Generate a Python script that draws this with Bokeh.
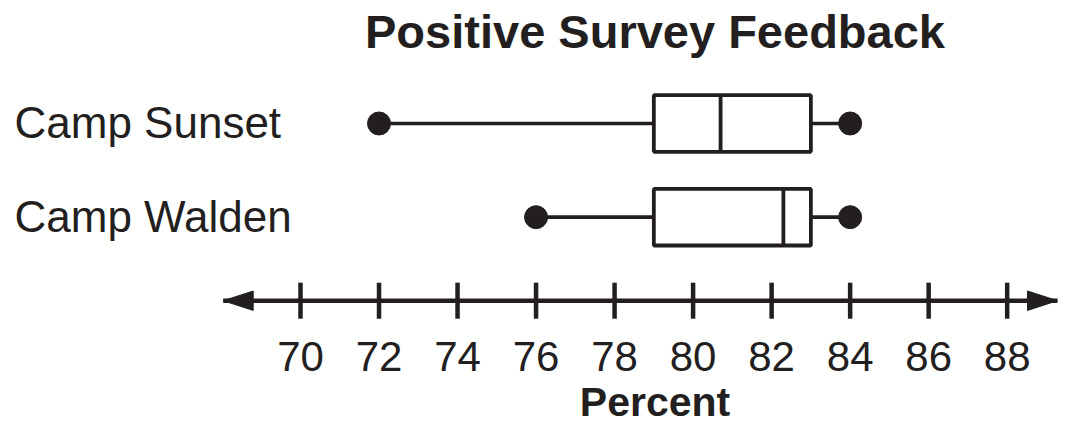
from bokeh.plotting import figure
from bokeh.models import Range1d, ColumnDataSource
from bokeh.core.properties import value
from bokeh.embed import file_html
from bokeh.resources import INLINE

# ---- data ----
CAMPS = ["Camp Sunset", "Camp Walden"]
MINS = [72, 76]
Q1S = [79, 79]
MEDIANS = [80.7, 82.3]
Q3S = [83, 83]
MAXS = [84, 84]

TICKS = [70, 72, 74, 76, 78, 80, 82, 84, 86, 88]
TICK_LABELS = ["70", "72", "74", "76", "78", "80", "82", "84", "86", "88"]

TITLE = "Positive Survey Feedback"
X_LABEL = "Percent"

# ---- layout ----
W, H = 1058, 425
PX_X = 39.26          # pixels per percent
PX_Y = 93.7           # pixels per row
X0 = 70 - 300 / PX_X
X1 = X0 + W / PX_X
Y_TOP = 2 + 123 / PX_Y
Y_BOT = Y_TOP - H / PX_Y

def dx(n):
    return n / PX_X

def dy(n):
    return n / PX_Y

ROWS = [2, 1]
AXIS_Y = 1 - dy(83.5)
LINE_START = X0 + dx(222.7)
LINE_END = X0 + dx(1057)
CENTER_X = X0 + dx(654.5)
INK = "#231f20"
FONT = value("Liberation Sans")

p = figure(width=W, height=H, x_range=Range1d(X0, X1), y_range=Range1d(Y_BOT, Y_TOP),
           toolbar_location=None, output_backend="svg",
           x_axis_location=None, y_axis_location=None, min_border=0,
           outline_line_color=None, background_fill_color="white",
           border_fill_color="white")
p.grid.visible = False

src = ColumnDataSource(dict(camp=CAMPS, row=ROWS, lo=MINS, q1=Q1S, med=MEDIANS, q3=Q3S, hi=MAXS))
HB = dy(28.3)

# whiskers
p.segment(x0="lo", x1="q1", y0="row", y1="row", source=src, line_color=INK, line_width=3.7)
p.segment(x0="q3", x1="hi", y0="row", y1="row", source=src, line_color=INK, line_width=3.7)
# boxes
src.data["b"] = [r - HB for r in ROWS]
src.data["t"] = [r + HB for r in ROWS]
p.quad(left="q1", right="q3", bottom="b", top="t", source=src,
       fill_color="white", line_color=INK, line_width=3.8)
p.segment(x0="med", x1="med", y0="b", y1="t", source=src, line_color=INK, line_width=3.8)
# end points
p.scatter(x="lo", y="row", source=src, size=23, fill_color=INK, line_color=INK)
p.scatter(x="hi", y="row", source=src, size=23, fill_color=INK, line_color=INK)

# category labels
src.data["lx"] = [X0 + dx(14)] * len(CAMPS)
src.data["ly"] = [r + dy(1.2) for r in ROWS]
p.text(x="lx", y="ly", text="camp", source=src, text_font=FONT, text_font_size="44px",
       text_color=INK, text_align="left", text_baseline="middle")

# number line
p.segment(x0=[LINE_START], x1=[LINE_END], y0=[AXIS_Y], y1=[AXIS_Y], line_color=INK, line_width=4.5)
HL, HW = dx(30), dy(9.7)
p.patches(xs=[[LINE_START, LINE_START + HL, LINE_START + HL],
              [LINE_END, LINE_END - HL, LINE_END - HL]],
          ys=[[AXIS_Y, AXIS_Y + HW, AXIS_Y - HW], [AXIS_Y, AXIS_Y + HW, AXIS_Y - HW]],
          fill_color=INK, line_color=INK, line_width=1)
tsrc = ColumnDataSource(dict(x=TICKS, label=TICK_LABELS,
                             y0=[AXIS_Y - dy(18)] * len(TICKS),
                             y1=[AXIS_Y + dy(18)] * len(TICKS),
                             ly=[AXIS_Y - dy(55.7)] * len(TICKS)))
p.segment(x0="x", x1="x", y0="y0", y1="y1", source=tsrc, line_color=INK, line_width=4.5)
p.text(x="x", y="ly", text="label", source=tsrc, text_font=FONT, text_font_size="42px",
       text_color=INK, text_align="center", text_baseline="middle")

# axis title (raised slightly so it fits inside the canvas)
p.text(x=[CENTER_X], y=[AXIS_Y - dy(101)], text=[X_LABEL], text_font=FONT, text_font_size="41px",
       text_font_style="bold", text_color=INK, text_align="center", text_baseline="middle")
# chart title
p.text(x=[CENTER_X], y=[2 + dy(123 - 30.5)], text=[TITLE], text_font=FONT, text_font_size="47px",
       text_font_style="bold", text_color=INK, text_align="center", text_baseline="middle")

open("out.html", "w").write(file_html(p, INLINE))
